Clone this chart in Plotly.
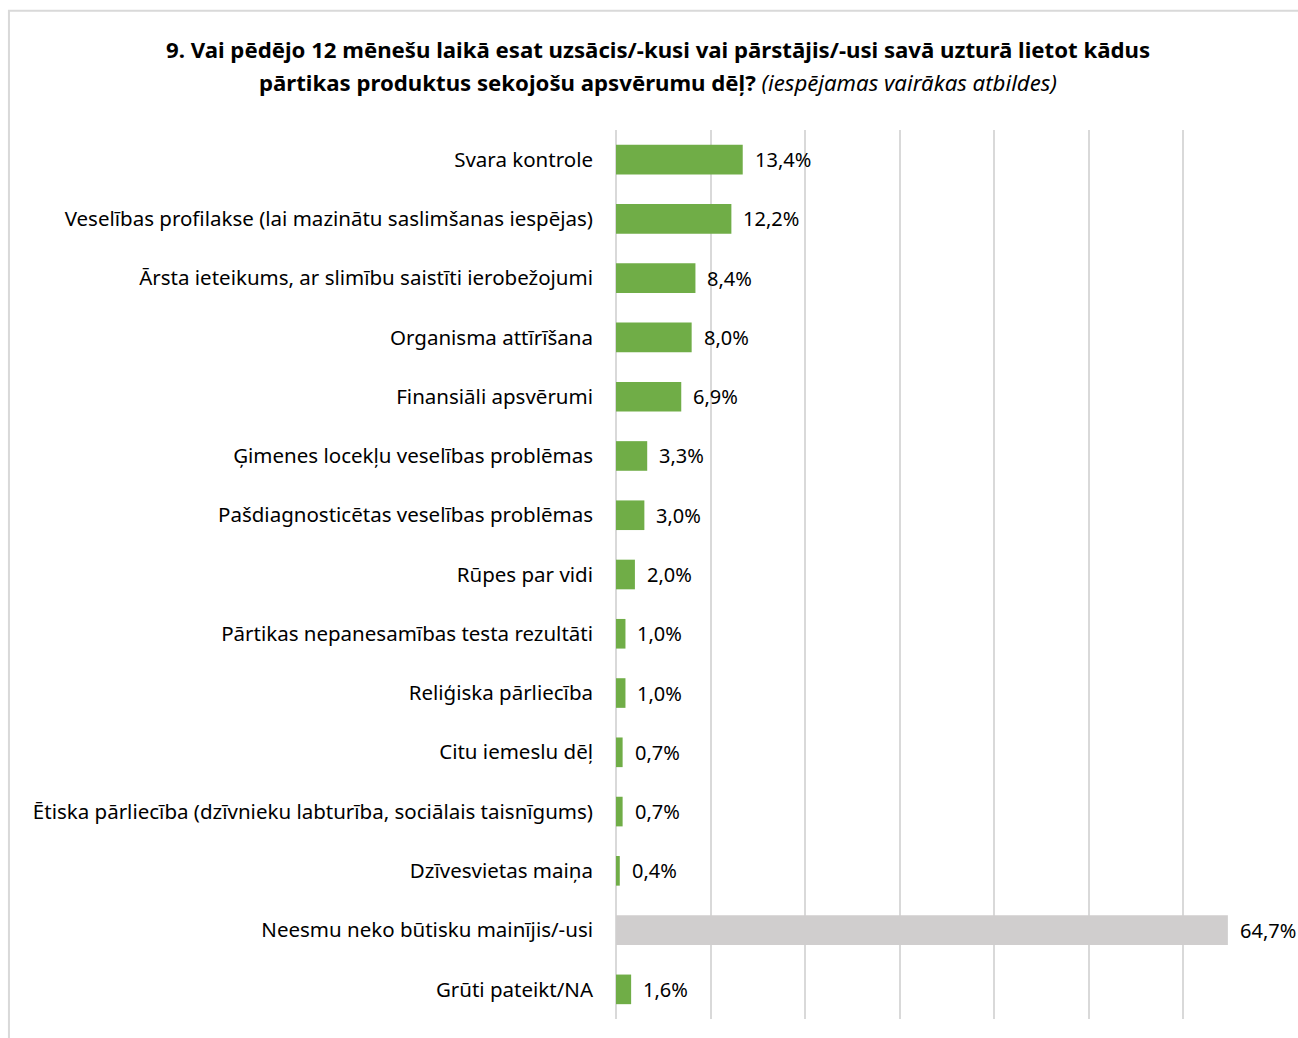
import plotly.graph_objects as go

categories = [
    "Svara kontrole",
    "Veselības profilakse (lai mazinātu saslimšanas iespējas)",
    "Ārsta ieteikums, ar slimību saistīti ierobežojumi",
    "Organisma attīrīšana",
    "Finansiāli apsvērumi",
    "Ģimenes locekļu veselības problēmas",
    "Pašdiagnosticētas veselības problēmas",
    "Rūpes par vidi",
    "Pārtikas nepanesamības testa rezultāti",
    "Reliģiska pārliecība",
    "Citu iemeslu dēļ",
    "Ētiska pārliecība (dzīvnieku labturība, sociālais taisnīgums)",
    "Dzīvesvietas maiņa",
    "Neesmu neko būtisku mainījis/-usi",
    "Grūti pateikt/NA",
]
values = [13.4, 12.2, 8.4, 8.0, 6.9, 3.3, 3.0, 2.0, 1.0, 1.0, 0.7, 0.7, 0.4, 64.7, 1.6]
bar_colors = ["#70AD47"] * 13 + ["#D0CECE", "#70AD47"]
x_ticks = [0, 10, 20, 30, 40, 50, 60, 70]

title_line1 = "9. Vai pēdējo 12 mēnešu laikā esat uzsācis/-kusi vai pārstājis/-usi savā uzturā lietot kādus"
title_line2_bold = "pārtikas produktus sekojošu apsvērumu dēļ?"
title_line2_italic = "(iespējamas vairākas atbildes)"

FONT = "'Noto Sans', 'Open Sans', sans-serif"
labels = [f"{v:.1f}%".replace(".", ",") for v in values]

fig = go.Figure(go.Bar(
    x=values, y=categories, orientation="h",
    marker=dict(color=bar_colors, line=dict(width=0)),
    width=0.5, hoverinfo="skip",
))

for v, c, t in zip(values, categories, labels):
    fig.add_annotation(x=v, y=c, text=t, showarrow=False, xanchor="left",
                       yanchor="middle", xshift=10,
                       font=dict(family=FONT, size=20, color="#000000"))

fig.add_annotation(
    xref="paper", yref="paper", x=0.063, y=1.0, yshift=81,
    xanchor="center", yanchor="middle", showarrow=False,
    text=f"<b>{title_line1}</b>",
    font=dict(family=FONT, size=22.2, color="#000000"),
)
fig.add_annotation(
    xref="paper", yref="paper", x=0.063, y=1.0, yshift=48,
    xanchor="center", yanchor="middle", showarrow=False,
    text=f"<b>{title_line2_bold}</b> <i>{title_line2_italic}</i>",
    font=dict(family=FONT, size=22.2, color="#000000"),
)

fig.add_shape(type="rect", xref="paper", yref="paper",
              x0=-0.917, x1=1.05, y0=-0.05, y1=1.134,
              line=dict(color="#D9D9D9", width=2), fillcolor="rgba(0,0,0,0)", layer="below")

fig.update_layout(
    width=1298, height=1038,
    margin=dict(l=616, r=20, t=130, b=19),
    paper_bgcolor="white", plot_bgcolor="white",
    showlegend=False,
    font=dict(family=FONT, size=20.5, color="#000000"),
    xaxis=dict(range=[0, 70], tickvals=x_ticks, showticklabels=False,
               showgrid=True, gridcolor="#D9D9D9", gridwidth=2,
               zeroline=True, zerolinecolor="#D9D9D9", zerolinewidth=2, fixedrange=True),
    yaxis=dict(autorange="reversed", showgrid=False, ticks="",
               ticklabelstandoff=22, tickfont=dict(family=FONT, size=20.5, color="#000000")),
)

fig.write_html("out.html")
